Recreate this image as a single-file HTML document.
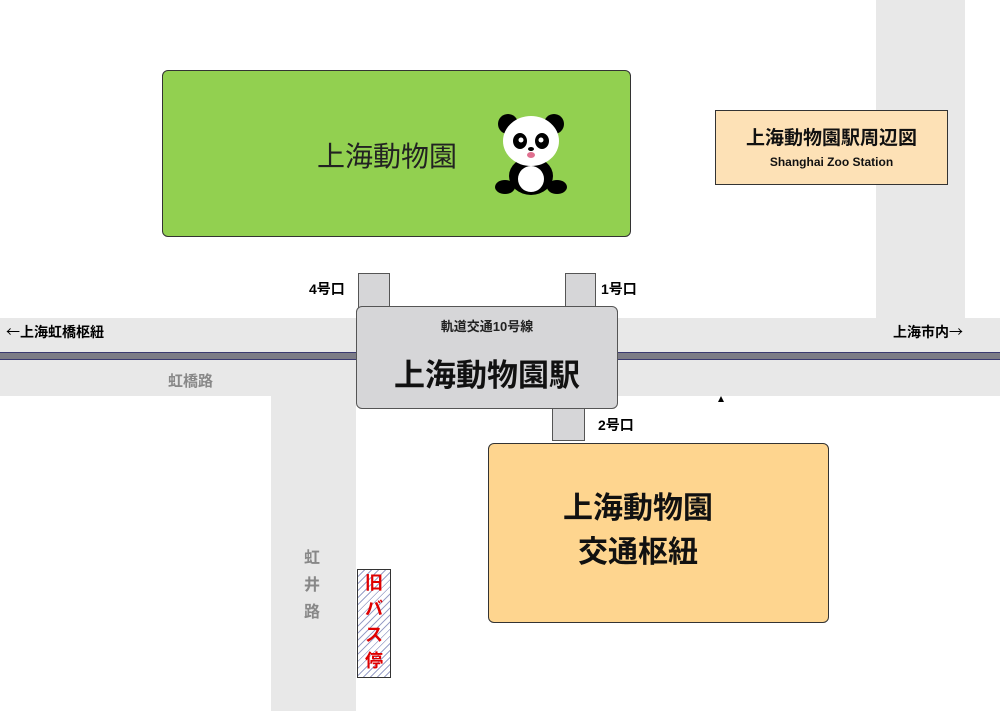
<!DOCTYPE html>
<html><head><meta charset="utf-8"><style>
body{margin:0;width:1000px;height:711px;position:relative;overflow:hidden;background:#fff;font-family:"Liberation Sans","Noto Sans CJK JP",sans-serif}
div{position:absolute;box-sizing:border-box}
.road{background:#e8e8e8}
.t{white-space:nowrap;font-weight:bold}
.exit{background:#d6d6d8;border:1px solid #555}
.ar{font-family:"Noto Sans CJK JP",sans-serif;font-weight:normal}
</style></head><body>
<div class="road" style="left:876px;top:0;width:89px;height:320px"></div>
<div class="road" style="left:0;top:318px;width:1000px;height:78px"></div>
<div class="road" style="left:271px;top:395px;width:85px;height:316px"></div>
<div style="left:0;top:352px;width:1000px;height:8px;background:#7c7c86;border-top:1px solid #3a3a70;border-bottom:1px solid #3a3a70"></div>

<div style="left:162px;top:70px;width:469px;height:167px;background:#92d050;border:1px solid #333;border-radius:6px"></div>
<div style="left:317px;top:135px;font-size:28px;color:#222;white-space:nowrap">上海動物園</div>
<svg style="position:absolute;left:494px;top:110px" width="74" height="86" viewBox="0 0 74 86">
<ellipse cx="37" cy="66" rx="22" ry="19" fill="#000"/>
<ellipse cx="37" cy="69" rx="13" ry="13" fill="#fff"/>
<ellipse cx="11" cy="77" rx="10" ry="7" fill="#000"/>
<ellipse cx="63" cy="77" rx="10" ry="7" fill="#000"/>
<circle cx="14" cy="14" r="10" fill="#000"/><circle cx="60" cy="14" r="10" fill="#000"/>
<ellipse cx="37" cy="31" rx="28" ry="25" fill="#fff"/>
<ellipse cx="26" cy="31" rx="7" ry="8" fill="#000"/><ellipse cx="48" cy="31" rx="7" ry="8" fill="#000"/>
<circle cx="27" cy="30" r="2.5" fill="#fff"/><circle cx="47" cy="30" r="2.5" fill="#fff"/>
<ellipse cx="37" cy="39" rx="3" ry="2" fill="#000"/>
<ellipse cx="37" cy="45" rx="4" ry="3" fill="#e07090"/>
</svg>

<div style="left:715px;top:110px;width:233px;height:75px;background:#fde1b6;border:1px solid #333"></div>
<div class="t" style="left:715px;top:123px;width:233px;text-align:center;font-size:19px;color:#111">上海動物園駅周辺図</div>
<div class="t" style="left:715px;top:155px;width:233px;text-align:center;font-size:12px;color:#111">Shanghai Zoo Station</div>

<div class="exit" style="left:358px;top:273px;width:32px;height:35px"></div>
<div class="exit" style="left:565px;top:273px;width:31px;height:35px"></div>
<div class="exit" style="left:552px;top:406px;width:33px;height:35px"></div>
<div class="t" style="left:309px;top:279px;font-size:14px">4号口</div>
<div class="t" style="left:601px;top:279px;font-size:14px">1号口</div>
<div class="t" style="left:598px;top:415px;font-size:14px">2号口</div>

<div style="left:356px;top:306px;width:262px;height:103px;background:#d6d6d8;border:1px solid #555;border-radius:6px"></div>
<div class="t" style="left:356px;top:316px;width:262px;text-align:center;font-size:13px;color:#222">軌道交通10号線</div>
<div class="t" style="left:356px;top:350px;width:262px;text-align:center;font-size:31px;color:#111">上海動物園駅</div>

<div class="t" style="left:6px;top:322px;font-size:14px"><span class="ar">←</span>上海虹橋枢紐</div>
<div class="t" style="left:893px;top:322px;font-size:14px">上海市内<span class="ar">→</span></div>
<div class="t" style="left:168px;top:370px;font-size:15px;color:#888">虹橋路</div>
<div class="t" style="left:304px;top:545px;font-size:16px;color:#888;line-height:27px;width:20px">虹<br>井<br>路</div>

<div style="left:718px;top:396px;width:0;height:0;border-left:3px solid transparent;border-right:3px solid transparent;border-bottom:6px solid #000"></div>

<div style="left:488px;top:443px;width:341px;height:180px;background:#fed58f;border:1px solid #333;border-radius:6px"></div>
<div class="t" style="left:488px;top:487px;width:300px;text-align:center;font-size:30px;line-height:44px;color:#111">上海動物園<br>交通枢紐</div>

<div style="left:357px;top:569px;width:34px;height:109px;border:1px solid #333;background:repeating-linear-gradient(135deg,#fff 0 4px,#9aa0c8 4px 5px)"></div>
<div class="t" style="left:357px;top:570px;width:34px;text-align:center;font-size:18px;line-height:26px;color:#e00000">旧<br>バ<br>ス<br>停</div>
</body></html>
